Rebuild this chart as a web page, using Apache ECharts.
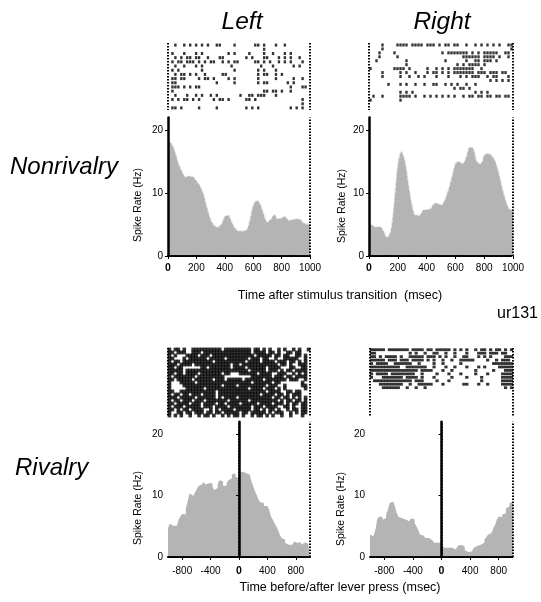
<!DOCTYPE html>
<html><head><meta charset="utf-8">
<script src="https://cdn.jsdelivr.net/npm/echarts@6/dist/echarts.min.js"></script>
<style>html,body{margin:0;padding:0;background:#fff}#c{width:541px;height:602px}</style>
</head><body><div id="c"></div>
<script>
// ---------- DATA ----------
const topTimes = [0,25,50,75,100,125,150,175,200,225,250,275,300,325,350,375,400,425,450,475,500,525,550,575,600,625,650,675,700,725,750,775,800,825,850,875,900,925,950,975,1000];
const leftNonrivalry = [18.3,17.9,16.6,14.7,13.4,12.6,12.7,12.6,12.0,11.2,9.9,7.8,5.9,4.9,4.6,5.1,6.3,6.5,5.4,4.4,4.0,4.0,4.1,5.7,8.1,8.8,8.3,6.7,5.4,5.9,6.6,5.9,6.1,6.3,5.7,5.8,5.9,5.9,5.4,5.1,5.1];
const rightNonrivalry = [5.1,4.9,4.6,4.7,4.1,3.0,4.1,8.9,14.7,16.6,15.2,11.5,8.1,6.5,6.5,7.3,7.4,7.5,8.3,8.4,8.1,8.9,10.5,12.6,14.7,15.0,14.7,15.8,17.3,17.1,15.0,14.7,16.0,16.3,16.0,15.2,13.4,11.0,8.9,7.5,7.3];
const bottomTimes = [-1000,-975,-950,-925,-900,-875,-850,-825,-800,-775,-750,-725,-700,-675,-650,-625,-600,-575,-550,-525,-500,-475,-450,-425,-400,-375,-350,-325,-300,-275,-250,-225,-200,-175,-150,-125,-100,-75,-50,-25,0,25,50,75,100,125,150,175,200,225,250,275,300,325,350,375,400,425,450,475,500,525,550,575,600,625,650,675,700,725,750,775,800,825,850,875,900,925,950,975];
const leftRivalry = [4.7,5.4,5.1,5.1,5.1,5.4,6.1,6.6,7.0,6.9,7.8,9.0,10.3,10.1,9.7,10.4,10.9,11.5,11.8,12.0,12.2,11.8,12.0,12.3,12.0,11.5,10.9,11.2,12.0,12.5,12.3,11.6,11.6,12.0,12.5,12.8,13.4,13.6,13.1,12.8,13.6,13.9,14.2,13.6,13.9,13.4,13.1,12.3,11.5,10.7,10.1,9.3,8.9,8.8,8.3,8.3,8.3,7.7,6.6,6.1,5.5,5.0,4.4,3.6,3.1,2.8,2.3,2.0,2.3,2.0,2.3,2.5,2.3,2.5,2.4,2.0,2.3,2.5,2.2,2.4];
const rightRivalry = [3.6,3.4,3.6,4.4,6.1,6.6,6.5,6.1,6.3,6.9,7.7,8.8,9.0,9.0,8.2,7.1,6.5,6.3,6.3,6.1,6.1,5.8,5.8,6.3,6.1,5.5,5.0,4.4,3.6,3.5,3.4,3.1,3.1,2.8,2.7,2.5,2.3,2.3,2.3,2.3,1.7,1.5,1.5,1.5,1.6,1.5,1.5,1.2,1.5,1.8,2.0,2.2,1.7,1.1,0.8,0.6,0.9,1.2,1.5,1.8,2.0,2.0,2.2,2.3,2.8,3.2,3.6,3.9,4.2,4.7,5.2,6.1,6.6,6.5,6.9,7.1,7.9,8.2,8.8,9.0];
const topTicks = [0,200,400,600,800,1000];
const bottomTicks = [-800,-400,0,400,800];
const rateTicks = [0,10,20];

// spike rasters: one string per trial, 48 time bins across the window, '#' = spike
const rasterLeftNonrivalry = [
"..#..#.#.#.#.#..##....#......##.#...#..#........",
"................................#...............",
".#...#...#.#........#.#....#....#..#...#.#......",
"..#.#.##.##..#...##.......#.#...##...#.#.#..#...",
".#.##.###.#.#.##..#.#.##.....##.#.#..#.#.#...#..",
"..#..#...#.#.........#.........#...#......#.#...",
".#.#.......#..........#.......#.#...#...........",
"..#.##.#.#..#.....##..........#.##..#.#.........",
".##.##....#.##.#....#.#.......#.....#.....#..#..",
".##.............#.....#.......#.##......#.#.....",
".###.#.#.##..............................#...##.",
".#..............................##.##.#..#......",
"..#...#..#.#..#.#.......#..##.###...#...........",
".#.#.##.#.#....#.##.#.....##.#...............#..",
".............................................#..",
".##.#.....#.....#.........#.#.#..........#.#.#.."
];
const rasterRightNonrivalry = [
"....#....####.####.###.#.##.##..#..#.#.#.#.#..##",
"....#..........................................#",
"...#....#...............#.#######.#.#.#####..##.",
"...#.....#.....................######.####.#..#.",
"..#.........#............#......#..##.###.#.....",
"............#................#.#.####.#.........",
"#.......####.#.....#..#.#.#.#######..#..........",
"....#.....#.#..#...#.##.#.#.#######.###.###.##..",
"....#.....#..#..#.#...#...#...#.#.###..#.##...#.",
"........................................#.#.#.#.",
"......#...#.#..#..#..##..#.#.#..#..#............",
"............................#.##.#..............",
"..........#.#.#....................#.#.#........",
".#..#.....####.#..#.#.#.#.#.#..#.##.##.##.##.##.",
"#.........#.....................................",
"",
""
];
const rasterLeftRivalry = [
"#.##.#..##########.#########.##.#.#..#.#..#.#..#",
"##.###..###.################.####.##.#..##.##...",
"#.#...####.###.##############.#####.##.##..##.#.",
"##...#.######.#####.#######.###.##..#..#####..#.",
"#.##.##########.##########.####.####.###.##.#.#.",
"###.####.############.##.############.##.#..###.",
"##.##......##.#######.####.######.####...##..##.",
"#####.#####################.#####.###.#.##.####.",
"##.##.####.#######.##...######.####..###..#.#.#.",
"#.#######.#########.........#######.###.##.####.",
"##.#####.######.###.#####.######.#######.###..#.",
"#...#####.##################.######.##.......#..",
"#....#############.####.#########.###..#.....##.",
"#.....######.##############.####.###.#.#......#.",
"##..############.################.####..##.##...",
"#.##.##.###.####.##############.####.##.#.###...",
"###.#####.######.#.####.###########.##.##.#.#.#.",
"#.##.###.###.#######.######.#########.#.##.##.#.",
"##.####.###.####.##.####.#####.####.###.#.##.##.",
"#.###.#####.###.####.#######.###.####..##.#..##.",
"##.#.##.####..#.#.####.#####.##.#.##.#..#.##.##.",
"#..##.##.###.##.##.#####.##.#####.#.###..#.#.##.",
"#.#.#..#..#.##.#..#.#.##.#..#.##.#.#..#..#...#.."
];
const rasterRightRivalry = [
"#####.#######.####.##.#####.#.#.#..#.##.#.##.#.#",
"##...........#.#..#..##..#..#...#...###.###.##..",
"##.#.####.#..#####.###.#.#..#..##...#.#.#....###",
"#####.###.###.####.#.#..#..#..#####....#..#.###.",
"#.####..######..#....#..#.....#..........#######",
"##########..#######..#...#..#...#...#.#....#####",
"################.####...#..#.......#.....#...###",
"#.####.########..#....#...#...#....#...#....####",
"#...#######.####.#...#.....#....#....#......####",
".#############.###....#...#..........#......####",
"...########..#..#####...#......##...#..#....####",
"....######..#..#..#..........................#.#",
"","","","","","","",""
];

// ---------- RENDER ----------
const FONT = "'Liberation Sans', Arial, Helvetica, sans-serif";
const GRAY = '#b4b4b4';
const chart = echarts.init(document.getElementById('c'), null, {renderer: 'canvas'});

function rasterPoints(rows, xMin, xMax) {
  const n = 48, w = (xMax - xMin) / n, pts = [];
  rows.forEach((row, r) => {
    for (let i = 0; i < Math.min(row.length, n); i++) if (row[i] === '#') pts.push([xMin + (i + 0.5) * w, r + 0.5]);
  });
  return pts;
}
function vlines(xs) {
  return { silent: true, symbol: 'none', animation: false, label: {show: false},
    lineStyle: {color: '#000', width: 2, type: [1.5, 1.5]}, emphasis: {disabled: true},
    data: xs.map(x => ({xAxis: x})) };
}
function zip(xs, ys) { return xs.map((x, i) => [x, ys[i]]); }

const panels = [
  {raster: rasterLeftNonrivalry, rg: {left:168, top:43, width:142, height:67},
   hg: {left:168, top:117.4, width:142, height:138.6}, min:0, max:1000, ticks: topTicks, margin: 7,
   times: topTimes, vals: leftNonrivalry, smooth: true, lines: [1000], sym: [2.4, 3]},
  {raster: rasterRightNonrivalry, rg: {left:369, top:43, width:144, height:67},
   hg: {left:369, top:117.4, width:144, height:138.6}, min:0, max:1000, ticks: topTicks, margin: 7,
   times: topTimes, vals: rightNonrivalry, smooth: true, lines: [1000], sym: [2.4, 3]},
  {raster: rasterLeftRivalry, rg: {left:168, top:348, width:142, height:69},
   hg: {left:168, top:421.7, width:142, height:135.3}, min:-1000, max:1000, ticks: bottomTicks, margin: 9,
   times: bottomTimes, vals: leftRivalry, smooth: false, lines: [0, 1000], sym: [3.6, 3.8]},
  {raster: rasterRightRivalry, rg: {left:370, top:348, width:143, height:69},
   hg: {left:370, top:421.7, width:143, height:135.3}, min:-1000, max:1000, ticks: bottomTicks, margin: 9,
   times: bottomTimes, vals: rightRivalry, smooth: false, lines: [0, 1000], sym: [3.2, 2.8]}
];

const grid = [], xAxis = [], yAxis = [], series = [];
panels.forEach((p) => {
  const gi = grid.length;
  grid.push(p.rg);
  xAxis.push({gridIndex: gi, type: 'value', min: p.min, max: p.max, show: false});
  yAxis.push({gridIndex: gi, type: 'value', min: 0, max: p.raster.length, inverse: true, show: false});
  series.push({type: 'scatter', xAxisIndex: gi, yAxisIndex: gi, symbol: 'rect', symbolSize: p.sym,
    itemStyle: {color: '#000'}, data: rasterPoints(p.raster, p.min, p.max), silent: true,
    markLine: vlines([p.min, p.max])});
  const hi = grid.length;
  grid.push(p.hg);
  xAxis.push({gridIndex: hi, type: 'value', min: p.min, max: p.max, z: 5,
    axisLine: {show: true, onZero: false, lineStyle: {color: '#000', width: 2, type: [1.5, 1.5]}},
    axisTick: {show: true, length: 3, customValues: p.ticks, lineStyle: {color: '#000', width: 1}},
    axisLabel: {customValues: p.ticks, fontSize: 10, color: '#000', margin: p.margin, fontFamily: FONT,
      formatter: v => v === 0 ? '{b|0}' : String(v),
      rich: {b: {fontWeight: 'bold', fontSize: 10.5, color: '#000', fontFamily: FONT}}},
    splitLine: {show: false}});
  yAxis.push({gridIndex: hi, type: 'value', min: 0, max: 22, z: 5,
    axisLine: {show: true, lineStyle: {color: '#000', width: 2.5}},
    axisTick: {show: true, length: 3, customValues: rateTicks, lineStyle: {color: '#000', width: 1}},
    axisLabel: {customValues: rateTicks, fontSize: 10, color: '#000', margin: 5, fontFamily: FONT},
    splitLine: {show: false}});
  let data = zip(p.times, p.vals);
  if (!p.smooth) data.push([p.max, p.vals[p.vals.length - 1]]);
  series.push({type: 'line', xAxisIndex: hi, yAxisIndex: hi, data: data, showSymbol: false, silent: true,
    smooth: p.smooth ? 0.35 : false, step: p.smooth ? false : 'end',
    lineStyle: p.smooth ? {color: '#ececec', width: 1.2, type: [3, 2]} : {width: 0, color: GRAY},
    areaStyle: {color: GRAY, opacity: 1},
    markLine: vlines(p.lines)});
});

function txt(text, x, y, size, opts) {
  return {type: 'text', x: x, y: y, silent: true,
    style: Object.assign({text: text, fontSize: size, fontFamily: FONT, fill: '#000',
      align: 'left', verticalAlign: 'middle'}, opts || {})};
}
const graphic = [
  txt('Left', 242, 22, 24.5, {align: 'center', fontStyle: 'italic'}),
  txt('Right', 442, 22, 24.5, {align: 'center', fontStyle: 'italic'}),
  txt('Nonrivalry', 10, 167, 24, {fontStyle: 'italic'}),
  txt('Rivalry', 15, 468, 24, {fontStyle: 'italic'}),
  txt('Time after stimulus transition  (msec)', 340, 296, 12.5, {align: 'center'}),
  txt('ur131', 538, 314, 16, {align: 'right'}),
  txt('Time before/after lever press (msec)', 340, 588, 12.5, {align: 'center'})
];
[[138, 205], [342, 206], [138, 508], [341, 509]].forEach(([x, y]) => {
  graphic.push({type: 'text', x: x, y: y, rotation: Math.PI / 2, silent: true,
    style: {text: 'Spike Rate (Hz)', fontSize: 10.5, fontFamily: FONT, fill: '#000', align: 'center', verticalAlign: 'middle'}});
});

chart.setOption({animation: false, backgroundColor: '#fff', grid, xAxis, yAxis, series, graphic});
</script>
</body></html>
